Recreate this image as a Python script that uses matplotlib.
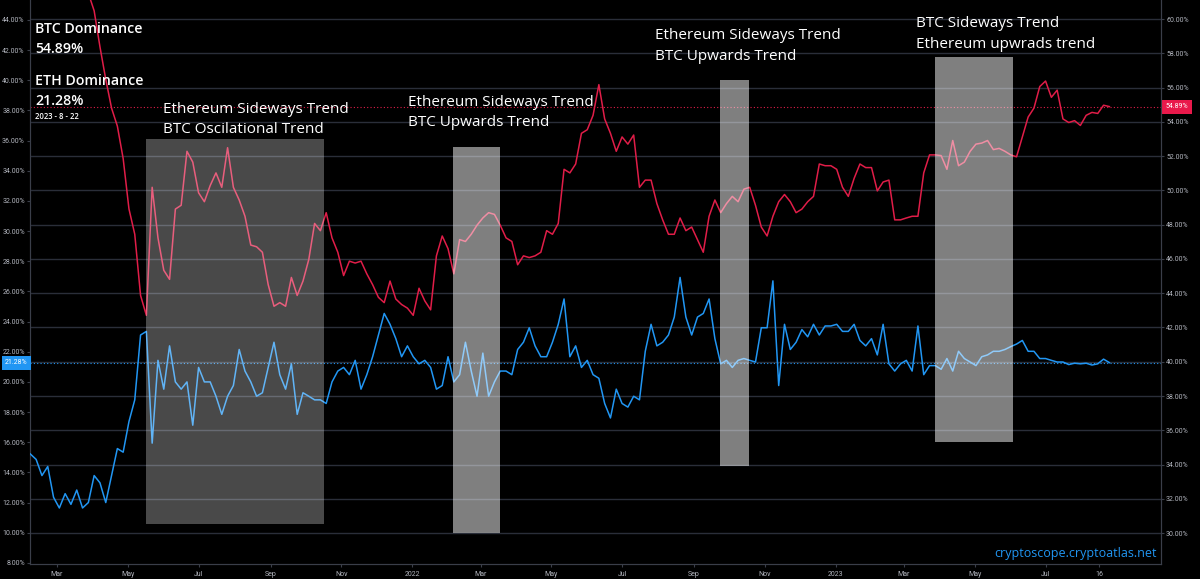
import numpy as np
import pandas as pd
import matplotlib
matplotlib.use("Agg")
import matplotlib.pyplot as plt
import matplotlib.transforms as mtransforms
from matplotlib.patches import Rectangle

W, H = 1200, 579
BG = "#000000"
GRID = "#2a2e39"
SPINE = "#3a3e49"
TXT = "#b2b5be"
RED = "#e01d48"
BLUE = "#2196f3"
FONT = "Open Sans"
TICK_FONT = "Roboto"

# 5-day samples
dates = pd.date_range("2021-02-06", periods=187, freq="5D")

eth_dominance = [
    15.22, 14.86, 13.79, 14.39, 12.35, 11.64, 12.59, 11.88, 12.83, 11.64,
    12.00, 13.79, 13.31, 12.00, 13.79, 15.58, 15.34, 17.37, 18.81, 23.11,
    23.35, 15.94, 21.43, 19.52, 22.39, 20.00, 19.52, 20.00, 17.13, 20.96,
    20.00, 20.00, 19.05, 17.85, 19.05, 19.76, 22.15, 20.72, 20.00, 19.05,
    19.28, 20.96, 22.63, 20.48, 19.52, 21.20, 17.85, 19.28, 19.05, 18.81,
    18.81, 18.57, 20.00, 20.72, 20.96, 20.48, 21.43, 19.52, 20.48, 21.67,
    23.11, 24.54, 23.82, 22.87, 21.67, 22.39, 21.67, 21.20, 21.43, 20.96,
    19.52, 19.76, 21.67, 20.00, 20.48, 22.63, 20.72, 19.05, 21.91, 19.05,
    20.00, 20.72, 20.72, 20.48, 22.15, 22.63, 23.59, 22.39, 21.67, 21.67,
    22.63, 23.82, 25.50, 21.67, 22.39, 20.96, 21.43, 20.48, 20.24, 18.57,
    17.61, 19.52, 18.57, 18.33, 19.05, 18.81, 22.03, 23.82, 22.39, 22.63,
    23.11, 24.30, 26.93, 24.30, 23.11, 24.30, 24.54, 25.50, 22.87, 21.20,
    21.43, 20.96, 21.43, 21.55, 21.43, 21.32, 23.59, 23.59, 26.70, 19.76,
    23.82, 22.15, 22.63, 23.47, 22.99, 23.82, 23.11, 23.71, 23.71, 23.82,
    23.35, 23.35, 23.82, 22.75, 22.39, 22.87, 21.79, 23.82, 21.20, 20.72,
    21.20, 21.43, 20.72, 23.71, 20.48, 21.08, 21.08, 20.84, 21.55, 20.72,
    22.03, 21.55, 21.32, 21.08, 21.67, 21.79, 22.03, 22.03, 22.15, 22.34,
    22.51, 22.75, 22.03, 22.03, 21.55, 21.55, 21.43, 21.32, 21.32, 21.15,
    21.24, 21.20, 21.24, 21.12, 21.20, 21.51, 21.28,
]

btc_dominance = [np.nan] * 8 + [
    62.60, 62.10,
    61.50, 60.48, 58.38, 56.48, 54.80, 53.75, 51.86, 48.92, 47.44, 43.87,
    42.71, 50.18, 47.23, 45.34, 44.81, 48.91, 49.13, 52.28, 51.65, 49.86,
    49.34, 50.28, 51.02, 50.18, 52.49, 50.18, 49.44, 48.49, 46.81, 46.71,
    46.39, 44.50, 43.24, 43.45, 43.24, 44.92, 43.87, 44.71, 45.97, 48.07,
    47.65, 48.70, 47.23, 46.39, 45.03, 45.87, 45.76, 45.87, 45.13, 44.50,
    43.76, 43.45, 44.71, 43.66, 43.34, 43.13, 42.71, 44.29, 43.55, 43.03,
    46.18, 47.34, 46.60, 45.13, 47.13, 47.02, 47.44, 47.97, 48.39, 48.70,
    48.60, 47.97, 47.23, 47.02, 45.66, 46.18, 46.08, 46.18, 46.39, 47.65,
    47.44, 48.07, 51.23, 51.02, 51.54, 53.33, 53.54, 54.38, 56.17, 54.17,
    53.33, 52.28, 53.12, 52.70, 53.23, 50.18, 50.60, 50.60, 49.23, 48.28,
    47.44, 47.44, 48.39, 47.65, 47.86, 47.13, 46.39, 48.49, 49.44, 48.70,
    49.23, 49.65, 49.34, 50.07, 50.18, 49.13, 47.86, 47.34, 48.49, 49.34,
    49.76, 49.34, 48.70, 48.91, 49.34, 49.65, 51.54, 51.44, 51.44, 51.23,
    50.18, 49.65, 50.70, 51.54, 51.33, 51.33, 49.97, 50.49, 50.60, 48.28,
    48.28, 48.39, 48.49, 48.49, 51.02, 52.07, 52.07, 52.03, 51.23, 52.91,
    51.44, 51.65, 52.28, 52.70, 52.76, 52.91, 52.38, 52.45, 52.28, 52.07,
    51.96, 53.12, 54.28, 54.80, 56.06, 56.38, 55.43, 55.85, 54.17, 53.96,
    54.07, 53.79, 54.38, 54.55, 54.49, 54.97, 54.89,
]

btc_last = 54.89
eth_last = 21.28
last_date_label = "2023 - 8 - 22"

tick_dates = pd.to_datetime([
    "2021-03-01", "2021-05-01", "2021-07-01", "2021-09-01", "2021-11-01",
    "2022-01-01", "2022-03-01", "2022-05-01", "2022-07-01", "2022-09-01",
    "2022-11-01", "2023-01-01", "2023-03-01", "2023-05-01", "2023-07-01",
    "2023-08-16",
])
tick_labels = ["Mar", "May", "Jul", "Sep", "Nov", "2022", "Mar", "May", "Jul",
               "Sep", "Nov", "2023", "Mar", "May", "Jul", "16"]

# trend boxes: start, end, BTC-scale bottom, top, fill alpha
boxes = [
    ("2021-05-17", "2021-10-17", 30.52, 53.02, 0.29),
    ("2022-02-05", "2022-03-18", 30.01, 52.53, 0.50),
    ("2022-09-23", "2022-10-18", 33.94, 56.44, 0.50),
    ("2023-03-28", "2023-06-03", 35.29, 57.78, 0.50),
]
notes = [
    (163, 113, "Ethereum Sideways Trend", "BTC Oscilational Trend"),
    (408, 106, "Ethereum Sideways Trend", "BTC Upwards Trend"),
    (655, 39, "Ethereum Sideways Trend", "BTC Upwards Trend"),
    (916, 27, "BTC Sideways Trend", "Ethereum upwrads trend"),
]


def fx(px):
    return px / W


def fy(py):
    return 1 - py / H


fig = plt.figure(figsize=(W / 100, H / 100), dpi=100, facecolor=BG)
ax = fig.add_axes([fx(30), fy(564), fx(1161) - fx(30), fy(0) - fy(564)])
ax.set_facecolor(BG)
ax2 = ax.twinx()

# BTC on the base axes (scale on the right, grid from it)
ax.yaxis.tick_right()
ax.set_ylim(28.20, 61.109)
ax.set_yticks(np.arange(30, 61, 2))
ax.set_yticklabels([f"{v:.2f}%" for v in np.arange(30, 61, 2)])
ax.grid(axis="y", color=GRID, linewidth=1.0)
ax.plot(dates, btc_dominance, color=RED, linewidth=1.1, zorder=3)
ax.axhline(btc_last, color=RED, linestyle=(0, (1, 2)), linewidth=0.8, zorder=2)

# ETH on the twin (scale on the left)
ax2.yaxis.tick_left()
ax2.set_ylim(7.925, 45.326)
ax2.set_yticks(np.arange(8, 45, 2))
ax2.set_yticklabels([f"{v:.2f}%" for v in np.arange(8, 45, 2)])
ax2.plot(dates, eth_dominance, color=BLUE, linewidth=1.1, zorder=3)
ax2.axhline(eth_last, color=BLUE, linestyle=(0, (1, 2)), linewidth=0.8, zorder=2)

ax.set_xlim(pd.Timestamp("2021-02-05 17:00"), pd.Timestamp("2023-10-08 12:00"))
ax.set_xticks(tick_dates)
ax.set_xticklabels(tick_labels)

for a in (ax, ax2):
    a.tick_params(colors=TXT, labelsize=5, length=2.5, width=0.8, pad=1.2)
    a.tick_params(axis="both", color=SPINE)
    a.spines["top"].set_visible(False)
    for side in ("left", "right", "bottom"):
        a.spines[side].set_color(SPINE)
        a.spines[side].set_linewidth(0.8)
    for lbl in a.get_xticklabels() + a.get_yticklabels():
        lbl.set_family(TICK_FONT)
ax.tick_params(axis="x", pad=2.5)

for start, end, lo, hi, alpha in boxes:
    x0 = pd.Timestamp(start)
    x1 = pd.Timestamp(end)
    ax2.add_patch(Rectangle((x0, lo), x1 - x0, hi - lo, transform=ax.transData,
                            facecolor="white", alpha=alpha, edgecolor="none",
                            zorder=6))

for px, py, line1, line2 in notes:
    fig.text(fx(px), fy(py), line1, color="white", fontsize=11, family=FONT,
             va="baseline", ha="left")
    fig.text(fx(px), fy(py + 20.5), line2, color="white", fontsize=11,
             family=FONT, va="baseline", ha="left")

# legend block top-left
legend_rows = [
    (33.3, "BTC Dominance", 10.2),
    (52.7, f"{btc_last:.2f}%", 10.2),
    (85.3, "ETH Dominance", 10.2),
    (105, f"{eth_last:.2f}%", 10.2),
    (118.7, last_date_label, 5.5),
]
for py, s, size in legend_rows:
    fig.text(fx(35), fy(py), s, color="white", fontsize=size, family=FONT,
             weight="semibold", va="baseline")

# price tags on both scales
tr_r = mtransforms.blended_transform_factory(ax.transAxes, ax.transData)
ax.text(1.004, btc_last, f"{btc_last:.2f}%", transform=tr_r, color="white",
        fontsize=5, family=TICK_FONT, ha="left", va="center", zorder=10,
        clip_on=False, bbox=dict(boxstyle="square,pad=0.5",
                                 facecolor="#e9194b", edgecolor="none"))
tr_l = mtransforms.blended_transform_factory(ax2.transAxes, ax2.transData)
ax2.text(-0.002, eth_last, f"{eth_last:.2f}%", transform=tr_l, color="white",
         fontsize=5, family=TICK_FONT, ha="right", va="center", zorder=10,
         clip_on=False, bbox=dict(boxstyle="square,pad=0.5",
                                  facecolor=BLUE, edgecolor="none"))

fig.text(fx(994), fy(554), "cryptoscope.cryptoatlas.net", color=BLUE,
         fontsize=9, family=FONT, va="center", ha="left")

fig.savefig("out.png", dpi=100, facecolor=BG)
